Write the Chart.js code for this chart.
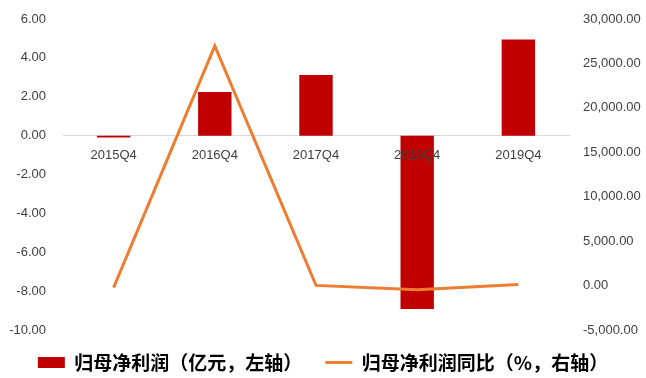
<!DOCTYPE html>
<html>
<head>
<meta charset="utf-8">
<script src="https://cdn.jsdelivr.net/npm/chart.js@4"></script>
<style>
  html, body { margin: 0; padding: 0; background: #ffffff; }
  #wrap { width: 646px; height: 378px; }
</style>
</head>
<body>
<div id="wrap"><canvas id="c" width="646" height="378"></canvas></div>
<script>
const categories = ['2015Q4', '2016Q4', '2017Q4', '2018Q4', '2019Q4'];
const netProfit = [-0.1, 2.25, 3.12, -8.92, 4.95];          // 亿元, left axis
const netProfitYoY = [-230, 26980, 20, -480, 110];          // %, right axis
const leftTicks = { min: -10, max: 6, step: 2 };
const rightTicks = { min: -5000, max: 30000, step: 5000 };
const seriesNames = ['归母净利润（亿元，左轴）', '归母净利润同比（%，右轴）'];

const tickFont = { family: 'Liberation Sans, Arial, sans-serif', size: 13 };
const tickColor = '#404040';

function fixVertical(width) {
  return s => { s.width = width; s.paddingTop = 8; s.paddingBottom = 8; };
}

new Chart(document.getElementById('c'), {
  data: {
    labels: categories,
    datasets: [
      {
        type: 'bar',
        label: seriesNames[0],
        data: netProfit,
        yAxisID: 'y',
        backgroundColor: '#C00000',
        borderWidth: 0,
        categoryPercentage: 1,
        barPercentage: 0.33,
        order: 1,
        pointStyle: 'rect'
      },
      {
        type: 'line',
        label: seriesNames[1],
        data: netProfitYoY,
        yAxisID: 'y1',
        borderColor: '#ED7D31',
        backgroundColor: '#ED7D31',
        borderWidth: 3,
        pointRadius: 0,
        tension: 0,
        order: 0,
        pointStyle: 'line'
      }
    ]
  },
  options: {
    responsive: false,
    animation: false,
    layout: { padding: { top: 19, bottom: -4, left: 0, right: 0 } },
    plugins: {
      tooltip: { enabled: false },
      legend: {
        position: 'bottom',
        labels: {
          usePointStyle: true,
          pointStyleWidth: 27,
          boxHeight: 11,
          padding: 23,
          color: '#000000',
          font: { family: 'Noto Sans CJK SC, sans-serif', size: 19, weight: 'bold' },
          sort: (a, b) => a.datasetIndex - b.datasetIndex
        }
      }
    },
    scales: {
      x: {
        type: 'category',
        position: { y: 0 },
        grid: { display: false, drawTicks: false },
        border: { display: true, color: '#D9D9D9', width: 1 },
        ticks: { z: 1, font: tickFont, color: tickColor, padding: 12, maxRotation: 0, autoSkip: false }
      },
      y: {
        type: 'linear',
        position: 'left',
        min: leftTicks.min,
        max: leftTicks.max,
        grid: { display: false, drawTicks: false },
        border: { display: false },
        ticks: {
          stepSize: leftTicks.step,
          font: tickFont,
          color: tickColor,
          padding: 17,
          callback: v => Number(v).toFixed(2)
        },
        afterFit: fixVertical(63)
      },
      y1: {
        type: 'linear',
        position: 'right',
        min: rightTicks.min,
        max: rightTicks.max,
        grid: { display: false, drawTicks: false },
        border: { display: false },
        ticks: {
          stepSize: rightTicks.step,
          font: tickFont,
          color: tickColor,
          padding: 14,
          callback: v => Number(v).toLocaleString('en-US', { minimumFractionDigits: 2, maximumFractionDigits: 2 })
        },
        afterFit: fixVertical(77)
      }
    }
  }
});
</script>
</body>
</html>
